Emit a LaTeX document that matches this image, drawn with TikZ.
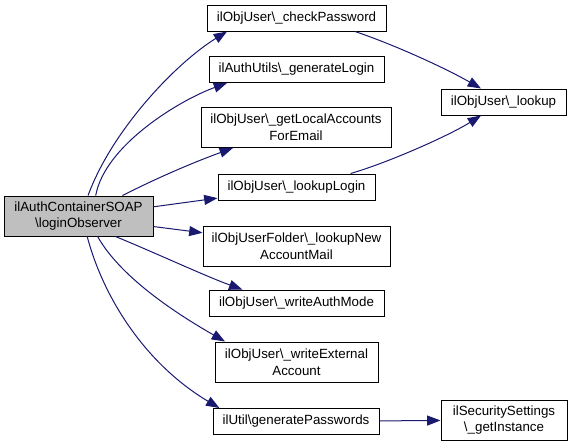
\documentclass[tikz,border=0pt]{standalone}
\usepackage{fontspec}
\setmainfont{Liberation Sans}
\usetikzlibrary{arrows.meta}
\definecolor{edgeblue}{HTML}{191970}
\definecolor{boxgray}{HTML}{BFBFBF}
\newcommand{\bsl}{\textbackslash}

\begin{document}
\begin{tikzpicture}[x=0.75pt, y=-0.75pt, >={Triangle[length=10pt,width=7.5pt]},
    fn/.style={draw, fill=white, line width=0.75pt, inner sep=0pt, align=center,
        font=\fontsize{10}{12.5}\selectfont, minimum height=19.5pt},
    fn2/.style={fn, minimum height=30pt},
    call/.style={->, edgeblue, line width=0.75pt}]
    \useasboundingbox (0,0) rectangle (571,447);

    % 调用者
    \node[fn2, fill=boxgray, minimum width=111.75pt] (main) at (78.5,216) {ilAuthContainerSOAP\\\bsl loginObserver};

    % 第一层被调用函数
    \node[fn, minimum width=134.25pt] (check) at (296.5,18) {ilObjUser\bsl\_checkPassword};
    \node[fn, minimum width=131.25pt] (genLogin) at (296.5,69.5) {ilAuthUtils\bsl\_generateLogin};
    \node[fn2, minimum width=142.5pt] (local) at (296,127.5) {ilObjUser\bsl\_getLocalAccounts\\ForEmail};
    \node[fn, minimum width=117.75pt] (lookupLogin) at (296.5,187) {ilObjUser\bsl\_lookupLogin};
    \node[fn2, minimum width=140.25pt] (lookupNew) at (296.5,246) {ilObjUserFolder\bsl\_lookupNew\\AccountMail};
    \node[fn, minimum width=131.25pt] (writeAuth) at (296.5,303) {ilObjUser\bsl\_writeAuthMode};
    \node[fn2, minimum width=122.25pt] (writeExt) at (296.5,362) {ilObjUser\bsl\_writeExternal\\Account};
    \node[fn, minimum width=124.5pt] (genPass) at (296,421.5) {ilUtil\bsl generatePasswords};

    % 第二层
    \node[fn, minimum width=93.75pt] (lookup) at (503.5,102) {ilObjUser\bsl\_lookup};
    \node[fn2, minimum width=94.5pt] (getInst) at (504,420) {ilSecuritySettings\\\bsl\_getInstance};

    % 调用关系
    \draw[call] (main.65) .. controls (112,130) and (176,63) .. (check.191);
    \draw[call] (main.50) .. controls (105,145) and (180,100) .. (genLogin.191);
    \draw[call] (main.25) .. controls (165,174) and (200,160) .. (local.198);
    \draw[call] (main.7) -- (lookupLogin.188);
    \draw[call] (main.-8) -- (lookupNew.172);
    \draw[call] (main.-29) .. controls (158,254) and (205,276) .. (writeAuth.166);
    \draw[call] (main.-47) .. controls (122,280) and (184,318) .. (writeExt.164);
    \draw[call] (main.-67) .. controls (104,300) and (147,365) .. (genPass.170);
    \draw[call] (check.-13) .. controls (395,45) and (445,68) .. (lookup.149);
    \draw[call] (lookupLogin.14) .. controls (390,162) and (450,135) .. (lookup.211);
    \draw[call] (genPass) -- (getInst);
\end{tikzpicture}
\end{document}
